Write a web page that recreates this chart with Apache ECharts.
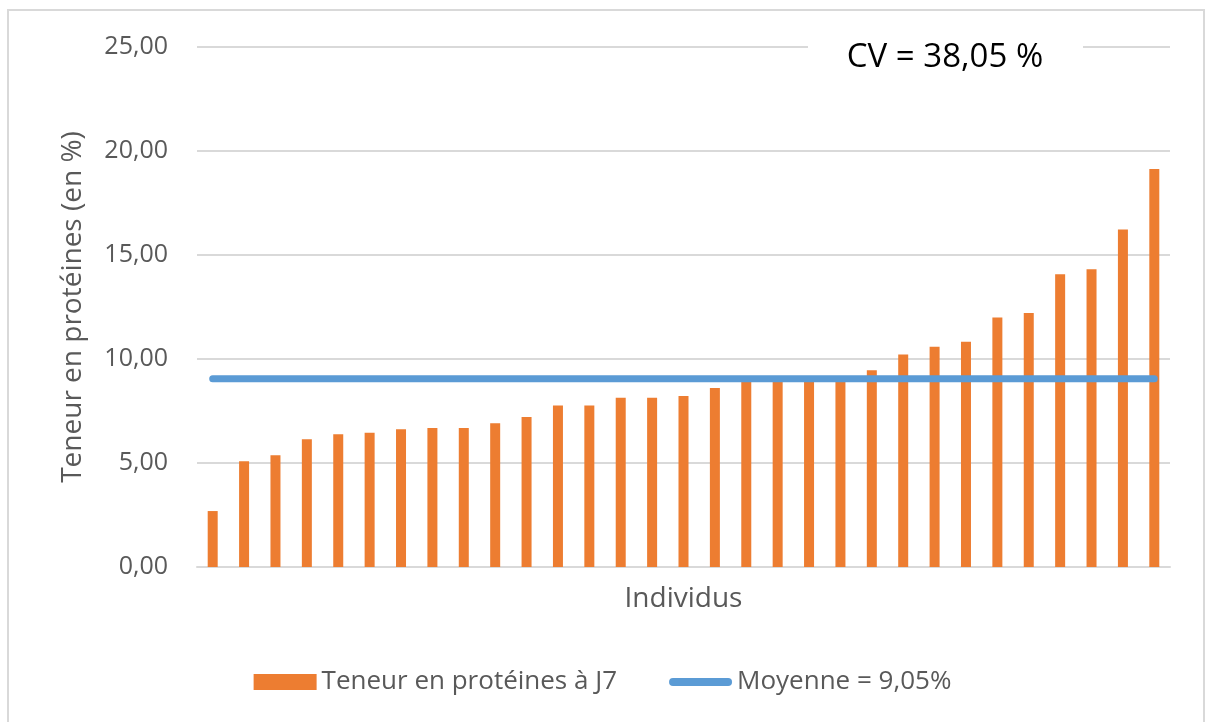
<!DOCTYPE html>
<html>
<head>
<meta charset="utf-8">
<script src="https://cdn.jsdelivr.net/npm/echarts@6/dist/echarts.min.js"></script>
<style>
  html, body { margin: 0; padding: 0; background: #fff; }
  #chart { width: 1205px; height: 722px; }
</style>
</head>
<body>
<div id="chart"></div>
<script>
// teneur en protéines à J7, individus triés par ordre croissant
var individus = [];
for (var i = 1; i <= 31; i++) individus.push('Ind ' + i);

var teneurJ7 = [2.69, 5.08, 5.37, 6.14, 6.38, 6.46, 6.62, 6.68, 6.68, 6.91, 7.21,
    7.77, 7.77, 8.14, 8.14, 8.22, 8.61, 9.0, 9.0, 9.0, 9.0, 9.46, 10.22, 10.59,
    10.83, 11.99, 12.21, 14.07, 14.31, 16.22, 19.13];

var moyenne = 9.05;
var moyenneLine = individus.map(function () { return moyenne; });

var cvText = 'CV = 38,05 %';

var grey = '#595959';
var font = '"Open Sans", "Liberation Sans", sans-serif';

var chart = echarts.init(document.getElementById('chart'));
chart.setOption({
    backgroundColor: '#fff',
    animation: false,
    textStyle: {fontFamily: font},
    grid: {left: 197, right: 35, top: 47, bottom: 155},
    legend: {
        bottom: 22,
        left: 'center',
        itemWidth: 63,
        itemHeight: 16,
        itemGap: 52,
        textStyle: {fontSize: 26, color: grey, fontFamily: font},
        data: [
            {name: 'Teneur en protéines à J7', icon: 'rect'},
            {name: 'Moyenne = 9,05%', icon: 'path://M4,0 L60,0 A4,4 0 0 1 60,8 L4,8 A4,4 0 0 1 4,0 Z'}
        ]
    },
    xAxis: {
        type: 'category',
        data: individus,
        name: 'Individus',
        nameLocation: 'middle',
        nameGap: 18,
        nameTextStyle: {fontSize: 28, color: grey},
        axisLine: {lineStyle: {color: '#d9d9d9', width: 2}},
        axisTick: {show: false},
        axisLabel: {show: false}
    },
    yAxis: {
        type: 'value',
        min: 0,
        max: 25,
        interval: 5,
        name: 'Teneur en protéines (en %)',
        nameLocation: 'middle',
        nameGap: 110,
        nameTextStyle: {fontSize: 28, color: grey},
        axisLabel: {
            fontSize: 25,
            color: grey,
            margin: 29,
            formatter: function (v) { return v.toFixed(2).replace('.', ','); }
        },
        splitLine: {lineStyle: {color: '#d9d9d9', width: 2}},
        axisLine: {show: false},
        axisTick: {show: false}
    },
    series: [
        {
            name: 'Teneur en protéines à J7',
            type: 'bar',
            data: teneurJ7,
            barWidth: 10,
            itemStyle: {color: '#ed7d31'}
        },
        {
            name: 'Moyenne = 9,05%',
            type: 'line',
            data: moyenneLine,
            symbol: 'none',
            lineStyle: {color: '#5b9bd5', width: 7, cap: 'round'},
            itemStyle: {color: '#5b9bd5'},
            z: 3
        }
    ],
    graphic: [
        {
            type: 'rect',
            shape: {x: 8, y: 10, width: 1196, height: 730},
            style: {fill: 'none', stroke: '#d9d9d9', lineWidth: 2},
            silent: true
        },
        {
            type: 'rect',
            shape: {x: 808, y: 13, width: 275, height: 83},
            style: {fill: '#fff'},
            z: 100
        },
        {
            type: 'text',
            x: 945,
            y: 58,
            style: {
                text: cvText,
                fill: '#000',
                fontSize: 33,
                fontFamily: font,
                align: 'center',
                verticalAlign: 'middle'
            },
            z: 101
        }
    ]
});
</script>
</body>
</html>
